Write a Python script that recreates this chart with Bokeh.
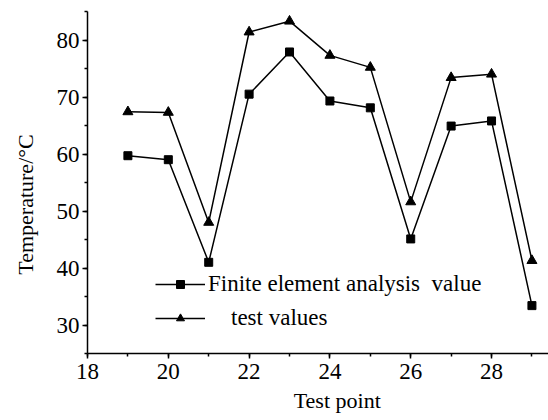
import math
from bokeh.plotting import figure
from bokeh.models import Legend, LegendItem, SingleIntervalTicker, Range1d
from bokeh.embed import file_html
from bokeh.resources import INLINE

test_points = [19, 20, 21, 22, 23, 24, 25, 26, 27, 28, 29]
fea_values = [59.7, 59.0, 41.0, 70.5, 77.9, 69.3, 68.1, 45.1, 64.9, 65.8, 33.4]
test_values = [67.4, 67.3, 48.0, 81.4, 83.3, 77.3, 75.2, 51.6, 73.4, 74.0, 41.3]
fea_label = "Finite element analysis\u00a0\u00a0value"
test_label = "\u00a0\u00a0\u00a0\u00a0test values"
x_title = "\u00a0" * 7 + "Test point"
y_title = "Temperature/\u00b0C" + "\u00a0" * 8

FONT = "Liberation Serif"

p = figure(width=548, height=420, output_backend="svg", toolbar_location=None,
           x_range=Range1d(18, 29.41), y_range=Range1d(25, 85),
           min_border_left=87, min_border_right=0, min_border_top=11, min_border_bottom=67)
p.outline_line_color = None
p.xgrid.visible = False
p.ygrid.visible = False
p.background_fill_color = "white"
p.border_fill_color = "white"

l1 = p.line(test_points, fea_values, line_color="black", line_width=1.5)
s1 = p.scatter(test_points, fea_values, marker="square", size=8, color="black")
l2 = p.line(test_points, test_values, line_color="black", line_width=1.5)
s2 = p.scatter(test_points, test_values, marker="triangle", size=10, color="black")

p.xaxis.ticker = SingleIntervalTicker(interval=2, num_minor_ticks=2)
p.yaxis.ticker = SingleIntervalTicker(interval=10, num_minor_ticks=2)
p.axis.axis_line_width = 1.5
p.axis.axis_line_color = "black"
p.axis.major_tick_line_color = "black"
p.axis.minor_tick_line_color = "black"
p.axis.major_tick_line_width = 1.5
p.axis.minor_tick_line_width = 1.5
p.axis.major_tick_in = 0
p.axis.major_tick_out = 5
p.axis.minor_tick_in = 0
p.axis.minor_tick_out = 3
p.axis.major_label_text_font = FONT
p.axis.major_label_text_font_size = "23px"
p.axis.major_label_text_color = "black"
p.xaxis.major_label_standoff = 5
p.yaxis.major_label_standoff = 3

p.xaxis.axis_label = x_title
p.yaxis.axis_label = y_title
p.axis.axis_label_text_font = FONT
p.axis.axis_label_text_font_size = "22px"
p.axis.axis_label_text_font_style = "normal"
p.axis.axis_label_text_color = "black"
p.xaxis.axis_label_standoff = 6
p.yaxis.axis_label_standoff = 16

legend = Legend(items=[LegendItem(label=fea_label, renderers=[l1, s1]),
                       LegendItem(label=test_label, renderers=[l2, s2])],
                location=(68, 22), margin=0, padding=0, spacing=8,
                glyph_width=50, glyph_height=20, label_height=20, label_standoff=3,
                border_line_color=None, background_fill_alpha=0,
                label_text_font=FONT, label_text_font_size="23px", label_text_color="black")
p.add_layout(legend)

open("out.html", "w").write(file_html(p, INLINE))
